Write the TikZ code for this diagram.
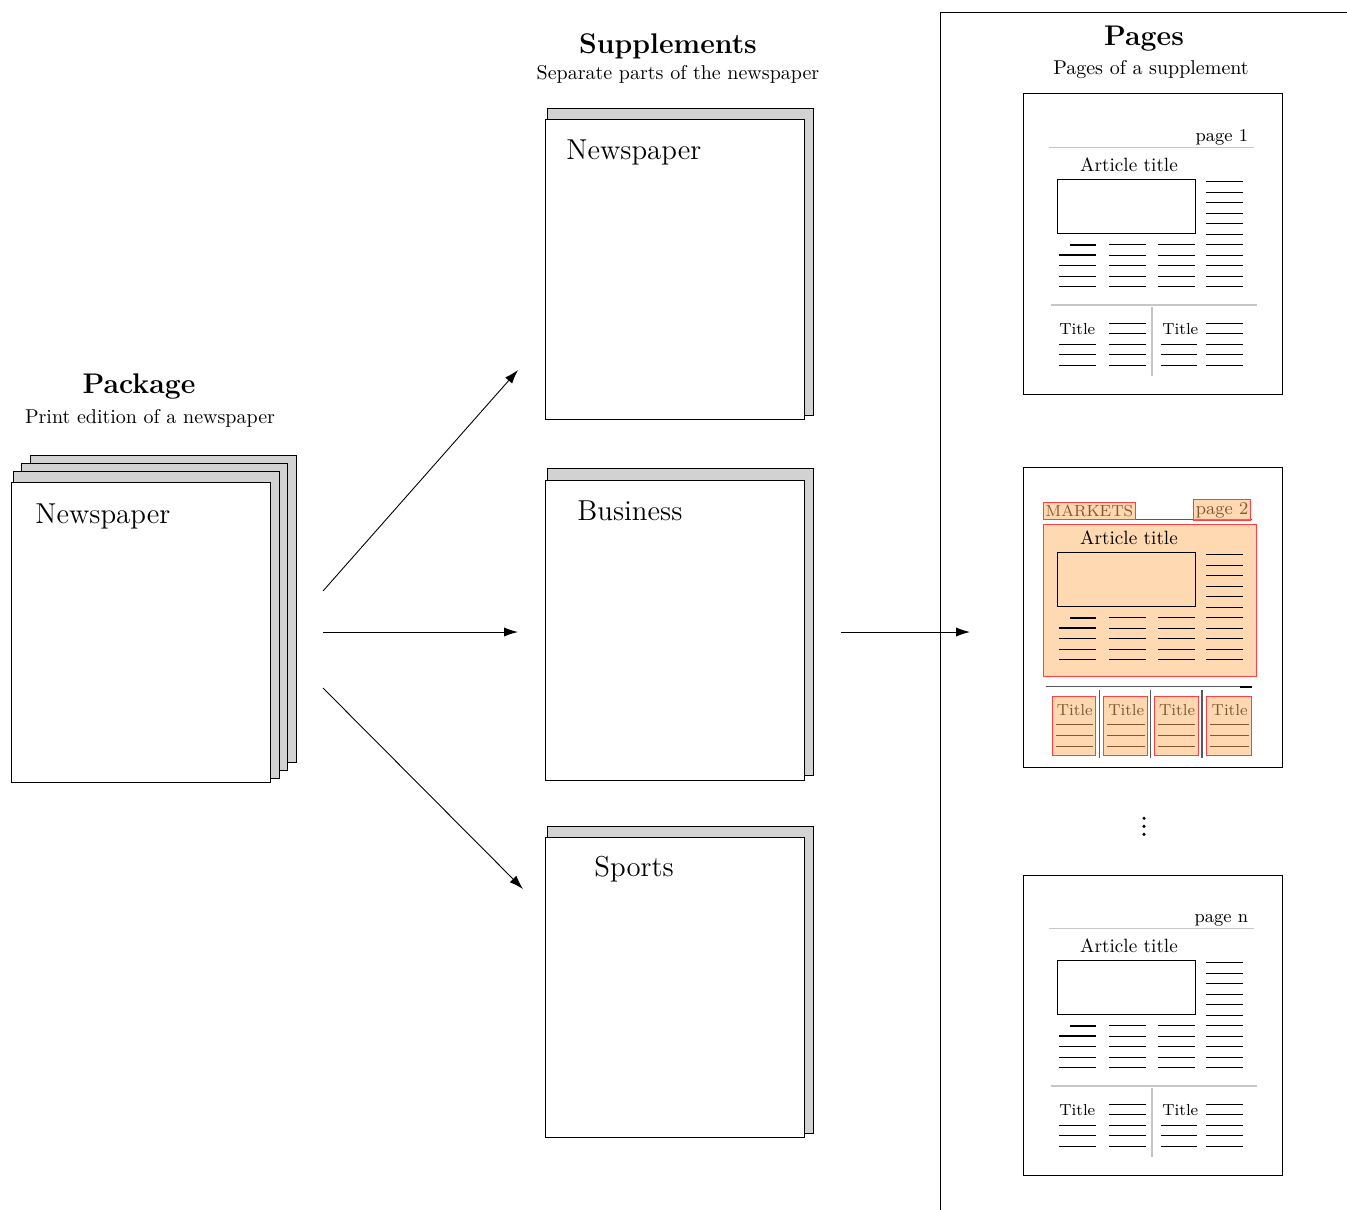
\documentclass[tikz,border=0pt]{standalone}
\usetikzlibrary{arrows.meta}

\tikzset{
  sheet/.style={draw=black, fill=white, line width=0.45pt, inner sep=0pt, outer sep=0pt,
                anchor=north west, minimum width=129.5pt, minimum height=150pt},
  backsheet/.style={draw=black, fill=gray!35, line width=0.45pt, inner sep=0pt, outer sep=0pt,
                anchor=north west, minimum width=133pt, minimum height=153.5pt},
  flow/.style={-{Latex[length=7pt,width=4.6pt]}, line width=0.45pt},
  heading/.style={font=\fontsize{14.2}{17}\selectfont\bfseries, inner sep=0pt, anchor=base},
  subheading/.style={font=\normalsize, inner sep=0pt, anchor=base},
  sheetlabel/.style={font=\Large, inner sep=0pt, anchor=base west},
  thumb/.style={draw=black, fill=white, line width=0.5pt, inner sep=0pt, outer sep=0pt,
                anchor=north west, minimum width=129.5pt, minimum height=150pt},
  txt/.style={line width=0.6pt, black},
  boldtxt/.style={line width=1pt, black},
  rule/.style={line width=0.6pt, gray!45},
  darkrule/.style={line width=0.6pt, black!65},
  hl/.style={draw=red!75, fill=orange!60, fill opacity=0.5, line width=0.5pt},
  hlbg/.style={draw=red!75, fill=orange!30, line width=0.5pt},
}

% main article of a page thumbnail: title, picture box and text columns
\newcommand{\articlepart}[1]{%
  \node[font=\fontsize{9.6}{11}\selectfont, inner sep=0pt, anchor=base] (#1-arttitle) at (106,77.7) {Article title};
  \draw[line width=0.5pt] (34.3,85.3) rectangle (172.3,139.3);
  \foreach \k in {0,...,10} \draw[txt] (183,{87.7+10.5*\k}) -- (220,{87.7+10.5*\k});
  \draw[boldtxt] (47,150.7) -- (73,150.7);
  \draw[boldtxt] (36,161.2) -- (73,161.2);
  \foreach \k in {2,...,4} \draw[txt] (36,{150.7+10.5*\k}) -- (73,{150.7+10.5*\k});
  \foreach \k in {0,...,4} {
    \draw[txt] (86,{150.7+10.5*\k}) -- (123,{150.7+10.5*\k});
    \draw[txt] (135,{150.7+10.5*\k}) -- (172,{150.7+10.5*\k});
  }%
}

% a plain page thumbnail: header, article and two short stories
\newcommand{\plainpage}[3]{%
  \begin{scope}[shift={(1023,#2)}]
    \node[thumb] (#1) at (0,0) {};
    \node[font=\small, inner sep=0pt, anchor=base east] (#1-num) at (225.5,47.7) {#3};
    \draw[rule] (26,53.7) -- (231,53.7);
    \articlepart{#1}
    \draw[rule] (28,211) -- (234,211);
    \draw[rule] (129,213) -- (129,282);
    \node[font=\footnotesize, inner sep=0pt, anchor=base west] (#1-ta) at (36,240.3) {Title};
    \node[font=\footnotesize, inner sep=0pt, anchor=base west] (#1-tb) at (139,240.3) {Title};
    \foreach \k in {2,...,4} {
      \draw[txt] (36,{229.3+10.5*\k}) -- (73,{229.3+10.5*\k});
      \draw[txt] (138,{229.3+10.5*\k}) -- (174,{229.3+10.5*\k});
    }
    \foreach \k in {0,...,4} {
      \draw[txt] (86,{229.3+10.5*\k}) -- (123,{229.3+10.5*\k});
      \draw[txt] (183,{229.3+10.5*\k}) -- (220,{229.3+10.5*\k});
    }
  \end{scope}%
}

\begin{document}
\begin{tikzpicture}[x=0.5pt, y=-0.5pt]
  \clip (0,0) rectangle (1347,1209);

  % ---------- package ----------
  \node[heading] (pkgTitle) at (139,393) {Package};
  \node[subheading] (pkgSub) at (150,423) {Print edition of a newspaper};
  \node[backsheet] (pkg3) at (30,455) {};
  \node[backsheet] (pkg2) at (21.5,463) {};
  \node[backsheet] (pkg1) at (13,471) {};
  \node[sheet] (pkg) at (11,482) {};
  \node[sheetlabel] (pkgLabel) at (35,523) {Newspaper};

  % ---------- supplements ----------
  \node[heading] (supTitle) at (668,54) {Supplements};
  \node[subheading] (supSub) at (678,80) {Separate parts of the newspaper};

  \node[backsheet] (supA0) at (547,108) {};
  \node[sheet] (supA) at (545,119) {};
  \node[sheetlabel] (supALabel) at (566,160) {Newspaper};

  \node[backsheet] (supB0) at (547,468) {};
  \node[sheet] (supB) at (545,480) {};
  \node[sheetlabel] (supBLabel) at (577,520) {Business};

  \node[backsheet] (supC0) at (547,826) {};
  \node[sheet] (supC) at (545,837) {};
  \node[sheetlabel] (supCLabel) at (594,876) {Sports};

  % ---------- arrows ----------
  \coordinate (outA) at (323,591);
  \coordinate (outB) at (323,632);
  \coordinate (outC) at (323,688);
  \coordinate (inA) at (518,370);
  \coordinate (inB) at (518,632);
  \coordinate (inC) at (523,889);
  \coordinate (outS) at (841,632);
  \coordinate (inP) at (970,632);
  \draw[flow] (outA) -- (inA);
  \draw[flow] (outB) -- (inB);
  \draw[flow] (outC) -- (inC);
  \draw[flow] (outS) -- (inP);

  % ---------- pages panel ----------
  \draw[line width=0.5pt] (940,1220) -- (940,13) -- (1360,13);
  \node[heading] (pgTitle) at (1144,46) {Pages};
  \node[subheading] (pgSub) at (1151,75) {Pages of a supplement};

  \plainpage{pageA}{94}{page 1}

  % page 2 with its highlighted regions
  \begin{scope}[shift={(1023,467)}]
    \node[thumb] (pageB) at (0,0) {};
    \draw[hlbg] (20.3,57.3) rectangle (233.7,209);
    \articlepart{pageB}
    \node[font=\footnotesize, inner sep=1pt, anchor=base west] (pageB-sec) at (20.3,49.7) {MARKETS};
    \node[font=\small, inner sep=1pt, anchor=base east] (pageB-num) at (227.7,47.3) {page 2};
    \draw[darkrule] (22,52.3) -- (228.7,52.3);
    \draw[hl] (pageB-sec.south west) rectangle (pageB-sec.north east);
    \draw[hl] (pageB-num.south west) rectangle (pageB-num.north east);
    \draw[darkrule] (23,219.7) -- (228.7,219.7);
    \draw[boldtxt] (217,219.7) -- (228.7,219.7);
    \foreach \v in {76.3,127.7,179} \draw[darkrule] (\v,223) -- (\v,291.3);
    \foreach \l/\r/\n in {29.3/72.7/a, 80.3/124.7/b, 131.3/175.3/c, 183/228.7/d} {
      \node[font=\footnotesize, inner sep=0pt, anchor=base] (pageB-t\n) at ({(\l+\r)/2+0.8},248) {Title};
      \foreach \yy in {257.3,268.3,279.7} \draw[txt] ({\l+4},\yy) -- ({\r-3},\yy);
      \draw[hl] (\l,229) rectangle (\r,288);
    }
  \end{scope}

  % vertical ellipsis between the thumbnails
  \foreach \yy in {818.3,826.4,834.4} \fill (1144,\yy) circle (1.7);

  \plainpage{pageN}{875}{page n}
\end{tikzpicture}
\end{document}
